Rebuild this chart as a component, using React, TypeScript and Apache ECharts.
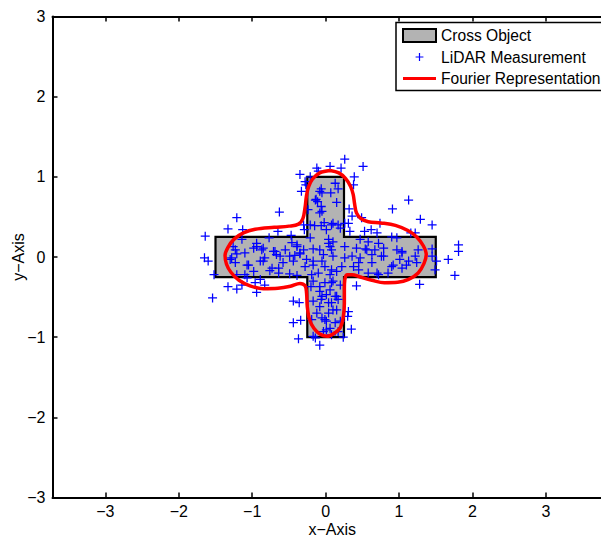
import React, { useEffect, useRef } from 'react';
import * as echarts from 'echarts';

const xTicks = [-3, -2, -1, 0, 1, 2, 3];
const yTicks = [-3, -2, -1, 0, 1, 2, 3];
const xRange = [-3.72, 3.9];
const yRange = [-3, 3];

const seriesNames = ['Cross Object', 'LiDAR Measurement', 'Fourier Representation'];

// Cross object outline (x, y)
const crossOutline: [number, number][] = [
  [-0.25, 1], [0.25, 1], [0.25, 0.25], [1.5, 0.25], [1.5, -0.25], [0.25, -0.25],
  [0.25, -1], [-0.25, -1], [-0.25, -0.25], [-1.5, -0.25], [-1.5, 0.25], [-0.25, 0.25],
];

// Fourier representation contour (x, y)
const fourierCurve: [number, number][] = [
  [0.06, 1.08], [-0.08, 1.05], [-0.18, 0.97], [-0.23, 0.88], [-0.26, 0.77], [-0.28, 0.62],
  [-0.31, 0.48], [-0.37, 0.41], [-0.5, 0.385], [-0.7, 0.37], [-0.96, 0.345], [-1.12, 0.3],
  [-1.25, 0.22], [-1.33, 0.12], [-1.37, 0.02], [-1.35, -0.09], [-1.29, -0.19], [-1.18, -0.29],
  [-1.03, -0.36], [-0.85, -0.395], [-0.65, -0.39], [-0.48, -0.365], [-0.35, -0.33], [-0.28, -0.36],
  [-0.26, -0.45], [-0.25, -0.62], [-0.22, -0.78], [-0.16, -0.89], [-0.08, -0.96], [0.02, -0.99],
  [0.12, -0.95], [0.2, -0.88], [0.24, -0.75], [0.255, -0.58], [0.255, -0.4], [0.26, -0.29],
  [0.29, -0.22], [0.36, -0.22], [0.47, -0.25], [0.63, -0.29], [0.8, -0.32], [0.98, -0.315],
  [1.13, -0.28], [1.26, -0.2], [1.34, -0.08], [1.37, 0.03], [1.33, 0.14], [1.24, 0.25],
  [1.12, 0.33], [0.95, 0.395], [0.75, 0.425], [0.58, 0.44], [0.48, 0.48], [0.42, 0.55],
  [0.395, 0.66], [0.375, 0.78], [0.34, 0.88], [0.27, 0.98], [0.18, 1.05], [0.06, 1.08],
];

// LiDAR measurements (x, y)
const lidarPoints: [number, number][] = [
  [-1.64, 0.26], [-1.33, 0.35], [-1.21, 0.49], [-1.13, 0.34], [-0.63, 0.56], [-0.65, 0.32],
  [-0.35, 1.03], [-0.28, 0.94], [-0.27, 0.9], [-0.33, 0.82], [-0.21, 1.0], [-0.12, 1.11],
  [-0.1, 1.07], [0.06, 1.13], [-0.06, 0.85], [-0.05, 0.8], [-0.13, 0.72], [-0.11, 0.69],
  [-0.06, 0.63], [-0.08, 0.55], [0.07, 0.8], [-0.24, 0.59], [-0.15, 0.39], [-0.06, 0.39],
  [-0.02, 0.43], [0.08, 0.4], [-0.3, 0.4], [-0.29, 0.34], [-0.77, 0.24], [-0.47, 0.27],
  [-0.46, 0.18], [-0.21, 0.24], [-1.14, 0.22], [-1.26, 0.13], [-1.23, 0.09], [-0.94, 0.17],
  [-0.98, 0.11], [-0.85, 0.11], [-0.69, 0.07], [-0.55, 0.09], [-0.39, 0.15], [-0.3, 0.09],
  [-0.17, 0.1], [-0.08, 0.09], [0.01, 0.34], [0.04, 0.22],
  [0.26, 1.22], [0.21, 1.11], [0.51, 1.13], [0.39, 1.0], [0.38, 0.9], [0.13, 0.92],
  [0.17, 0.85], [0.15, 0.68], [0.32, 0.6], [0.36, 0.51], [0.49, 0.49], [1.13, 0.71],
  [0.91, 0.6], [1.29, 0.47], [1.45, 0.4], [0.74, 0.42], [0.62, 0.34], [0.53, 0.32],
  [0.7, 0.3], [0.31, 0.42], [0.2, 0.36], [0.33, 0.32], [0.9, 0.25], [0.97, 0.24],
  [1.16, 0.3], [1.22, 0.3], [0.47, 0.22], [0.58, 0.19], [0.72, 0.17], [0.79, 0.11],
  [0.97, 0.09], [1.04, 0.07], [1.26, 0.09], [1.45, 0.1], [1.81, 0.15], [1.81, 0.07],
  [0.04, 0.17], [0.08, 0.09], [0.26, 0.13], [0.42, 0.11], [0.54, 0.1], [0.67, 0.09],
  [-1.65, -0.01], [-1.6, -0.05], [-1.52, -0.22], [-1.33, -0.37], [-1.21, -0.4], [-1.54, -0.51],
  [-0.94, -0.44], [-0.96, -0.32], [-0.83, -0.35], [-0.89, -0.28], [-1.1, -0.22], [-0.98, -0.18],
  [-1.07, -0.1], [-1.23, -0.07], [-1.28, -0.01], [-1.21, 0.04], [-0.85, -0.05], [-0.76, -0.17],
  [-0.64, -0.14], [-0.58, -0.07], [-0.67, 0.03], [-0.44, -0.05], [-0.35, 0.04], [-0.49, -0.21],
  [-0.39, -0.23], [-0.28, -0.12], [-0.17, -0.05], [-0.05, -0.05], [-0.19, -0.22], [-0.17, -0.3],
  [-0.2, -0.37], [0.06, -0.22], [-0.01, -0.32], [0.08, -0.32], [-0.08, -0.43], [0.01, -0.47],
  [-0.06, -0.53], [0.04, -0.57], [-0.44, -0.55], [-0.36, -0.57], [-0.17, -0.55], [-0.12, -0.7],
  [-0.05, -0.76], [0.01, -0.8], [0.01, -0.91], [-0.44, -0.82], [-0.34, -0.79], [-0.19, -0.78],
  [-0.37, -1.02], [-0.08, -1.1], [-0.17, -0.99], [0.08, -0.97], [-1.1, 0.05], [-0.83, -0.01],
  [-0.42, 0.02], [-0.03, 0.03],
  [1.67, -0.03], [1.76, -0.23], [1.28, -0.34], [1.49, -0.16], [1.51, -0.05], [1.45, 0.01],
  [1.13, -0.05], [1.04, -0.14], [0.92, -0.1], [0.85, -0.2], [0.72, -0.22], [0.58, -0.2],
  [0.45, -0.16], [0.45, -0.07], [0.63, 0.03], [0.76, 0.01], [1.04, 0.05], [1.24, -0.07],
  [0.26, -0.01], [0.36, 0.01], [0.1, 0.01], [0.22, -0.12], [0.08, -0.16], [0.42, -0.36],
  [0.1, -0.3], [0.2, -0.35], [0.06, -0.41], [0.13, -0.49], [0.17, -0.53], [0.08, -0.57],
  [0.15, -0.66], [0.04, -0.7], [0.31, -0.68], [0.3, -0.74], [0.2, -0.8], [0.35, -0.9],
  [0.06, -0.89], [0.17, -0.93], [0.24, -1.0],
  [-0.08, 0.82], [-0.14, 0.71], [-0.05, 0.57], [-0.21, 0.4], [0.1, 0.42], [0.17, 0.4],
  [0.26, 0.42], [0.1, 0.19], [0.06, 0.13], [-0.17, -0.1], [-0.1, -0.2], [-0.01, -0.12],
  [0.15, -0.18], [-0.08, -0.37], [-0.05, -0.49], [0.15, -0.49], [-0.08, -0.62], [0.1, -0.66],
  [-0.01, -0.78], [0.13, -0.82], [-0.03, -0.93], [-0.14, -1.01],
  [0.56, 0.09], [0.79, 0.01], [1.01, -0.03], [1.22, 0.01], [0.9, -0.12], [1.1, -0.1],
  [0.63, -0.07], [0.47, -0.01], [0.38, -0.12], [0.7, -0.2],
  [-0.94, 0.13], [-0.87, 0.09], [-0.71, 0.07], [-0.62, 0.01], [-0.49, 0.01], [-0.35, 0.05],
  [-0.39, 0.13], [-0.26, -0.03], [-1.05, -0.1], [-1.3, -0.03], [-0.73, -0.14], [-0.89, -0.05],
  [-0.64, -0.2], [-1.07, -0.26], [-1.21, -0.22], [-1.14, -0.35],
];

const FONT = "'Liberation Sans', Arial, Helvetica, sans-serif";
const fmt = (v: number) => String(v).replace('-', '\u2212');

const plusSymbol = 'path://M4.3,0h1.4v4.3h4.3v1.4h-4.3v4.3h-1.4v-4.3h-4.3v-1.4h4.3z';
const legendPlus =
  'path://M0,0h0.05v0.05h-0.05z M32.95,12.95h0.05v0.05h-0.05z M15.9,2.6h1.2v3.3h3.3v1.2h-3.3v3.3h-1.2v-3.3h-3.3v-1.2h3.3z';
const legendLine =
  'path://M0,0h0.05v0.05h-0.05z M32.95,12.95h0.05v0.05h-0.05z M0,5h33v3h-33z';

export default function App() {
  const ref = useRef<HTMLDivElement>(null);
  useEffect(() => {
    document.body.style.overflow = 'hidden';
    const chart = echarts.init(ref.current as HTMLDivElement, null, { renderer: 'svg' });
    const axisText = { fontSize: 16, color: '#000', fontFamily: FONT };
    chart.setOption({
      animation: false,
      backgroundColor: '#fff',
      grid: { left: 52.5, right: 28, top: 16.5, bottom: 40.5, containLabel: false, outerBoundsMode: 'none' },
      legend: {
        left: 396,
        top: 22.5,
        orient: 'vertical',
        selectedMode: false,
        backgroundColor: '#fff',
        borderColor: '#000',
        borderWidth: 1.5,
        borderRadius: 0,
        padding: [5, 10, 4, 6],
        itemGap: 5.5,
        itemWidth: 33,
        itemHeight: 13,
        textStyle: { fontSize: 15.6, color: '#000', fontFamily: FONT },
        data: [
          { name: seriesNames[0], icon: 'rect', itemStyle: { color: '#b3b3b3', borderColor: '#000', borderWidth: 2 } },
          { name: seriesNames[1], icon: legendPlus, itemStyle: { color: '#0000ff', borderWidth: 0 } },
          { name: seriesNames[2], icon: legendLine, itemStyle: { color: '#ff0000', borderWidth: 0 } },
        ],
      },
      xAxis: [
        {
          type: 'value', position: 'bottom', min: xRange[0], max: xRange[1],
          axisLine: { onZero: false, lineStyle: { color: '#000', width: 2 } },
          axisTick: { inside: true, length: 5, lineStyle: { color: '#000', width: 1.5 }, customValues: xTicks },
          axisLabel: { ...axisText, margin: 6, formatter: fmt, customValues: xTicks },
          splitLine: { show: false },
          name: 'x\u2212Axis', nameLocation: 'middle', nameGap: 24, nameMoveOverlap: false,
          nameTextStyle: axisText,
        },
        {
          type: 'value', position: 'top', min: xRange[0], max: xRange[1],
          axisLine: { onZero: false, lineStyle: { color: '#000', width: 2 } },
          axisTick: { inside: true, length: 5, lineStyle: { color: '#000', width: 1.5 }, customValues: xTicks },
          axisLabel: { show: false, customValues: xTicks },
          splitLine: { show: false },
        },
      ],
      yAxis: [
        {
          type: 'value', position: 'left', min: yRange[0], max: yRange[1],
          axisLine: { onZero: false, lineStyle: { color: '#000', width: 2 } },
          axisTick: { inside: true, length: 5, lineStyle: { color: '#000', width: 1.5 }, customValues: yTicks },
          axisLabel: { ...axisText, margin: 7, formatter: fmt, customValues: yTicks },
          splitLine: { show: false },
          name: 'y\u2212Axis', nameLocation: 'middle', nameGap: 26, nameMoveOverlap: false,
          nameTextStyle: axisText,
        },
        {
          type: 'value', position: 'right', min: yRange[0], max: yRange[1],
          axisLine: { onZero: false, lineStyle: { color: '#000', width: 2 } },
          axisTick: { inside: true, length: 5, lineStyle: { color: '#000', width: 1.5 }, customValues: yTicks },
          axisLabel: { show: false, customValues: yTicks },
          splitLine: { show: false },
        },
      ],
      series: [
        {
          name: seriesNames[0],
          type: 'custom',
          coordinateSystem: 'cartesian2d',
          xAxisIndex: 0,
          yAxisIndex: 0,
          z: 1,
          itemStyle: { color: '#b3b3b3' },
          data: [[0, 0]],
          renderItem: (_p: any, api: any) => ({
            type: 'polygon',
            shape: { points: crossOutline.map((pt) => api.coord(pt)) },
            style: { fill: '#b3b3b3', stroke: '#000', lineWidth: 2.2 },
          }),
        },
        {
          name: seriesNames[1],
          type: 'scatter',
          z: 2,
          symbol: plusSymbol,
          symbolSize: 9,
          itemStyle: { color: '#0000ff', opacity: 1 },
          data: lidarPoints,
        },
        {
          name: seriesNames[2],
          type: 'line',
          z: 3,
          color: '#ff0000',
          smooth: 0.35,
          symbol: 'none',
          lineStyle: { color: '#ff0000', width: 3.5 },
          data: fourierCurve,
        },
      ],
    });
    return () => chart.dispose();
  }, []);
  return (
    <div style={{ position: 'fixed', left: 0, top: 0, width: 601, height: 538, overflow: 'hidden', background: '#fff' }}>
      <div ref={ref} style={{ width: 640, height: 538 }} />
    </div>
  );
}
